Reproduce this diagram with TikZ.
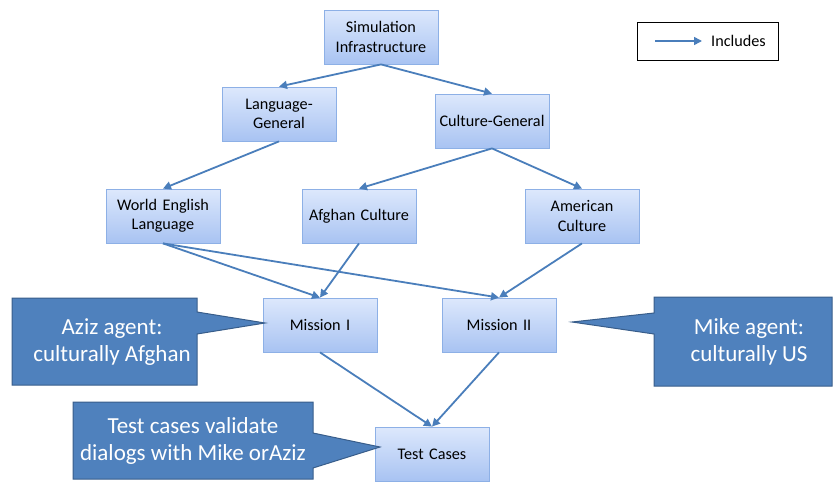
\documentclass[tikz,border=0pt]{standalone}
\usepackage{fontspec}
\setmainfont{Carlito}
\usetikzlibrary{arrows.meta}
\definecolor{boxtop}{HTML}{DDE8FC}
\definecolor{boxbot}{HTML}{A8C3F2}
\definecolor{boxline}{HTML}{8DB0E6}
\definecolor{arr}{HTML}{4A7EBB}
\definecolor{callfill}{HTML}{4F81BD}
\definecolor{callline}{HTML}{385D8A}
\tikzset{
  x=1pt,y=1pt,
  blk/.style={draw=boxline,line width=0.8pt,top color=boxtop,bottom color=boxbot,
    minimum width=114pt,minimum height=54pt,text width=110pt,align=center,
    inner sep=2pt,font=\fontsize{16.2}{19.5}\selectfont},
  conn/.style={draw=arr,line width=1.8pt,-{Triangle[length=8pt,width=8pt]}},
  callshape/.style={fill=callfill,draw=callline,line width=1pt},
  calltext/.style={text=white,align=center,font=\fontsize{23}{27}\selectfont}
}
\begin{document}
\begin{tikzpicture}
\useasboundingbox (0,0) rectangle (833,-482);
% legend
\node[draw=black,line width=1pt,minimum width=141pt,minimum height=38pt,inner sep=0pt] (leg) at (707.5,-41) {};
\coordinate (la) at (655,-41);
\coordinate (lb) at (702,-41);
\draw[conn,line width=1.5pt] (la) -- (lb);
\node[font=\fontsize{16.2}{19}\selectfont,anchor=west,inner sep=0pt] (legt) at (711,-41) {Includes};
% boxes
\node[blk] (sim) at (381,-37) {Simulation\\Infrastructure};
\node[blk] (lg) at (279,-114) {Language-\\General};
\node[blk] (cg) at (492,-121) {Culture-General};
\node[blk] (we) at (163,-216) {World English\\Language};
\node[blk] (af) at (359,-216) {Afghan Culture};
\node[blk] (am) at (582,-216) {American\\Culture};
\node[blk] (m1) at (320,-325) {Mission I};
\node[blk] (m2) at (499,-325) {Mission II};
\node[blk] (tc) at (432,-454) {Test Cases};
% connectors
\draw[conn] (sim.south) -- (lg.north);
\draw[conn] (sim.south) -- (cg.north);
\draw[conn] (lg.south) -- (we.north);
\draw[conn] (cg.south) -- (af.north);
\draw[conn] (cg.south) -- (am.north);
\draw[conn] (we.south) -- (m1.north);
\draw[conn] (we.south) -- (m2.north);
\draw[conn] (af.south) -- (m1.north);
\draw[conn] (am.south) -- (m2.north);
\draw[conn] (m1.south) -- (tc.north);
\draw[conn] (m2.south) -- (tc.north);
% callouts
\draw[callshape] (12,-298) -- (197,-298) -- (197,-312) -- (265,-323) -- (197,-334) -- (197,-385) -- (12,-385) -- cycle;
\node[calltext] (aziz) at (112,-342) {Aziz agent:\\culturally Afghan};
\draw[callshape] (654,-297) -- (832,-297) -- (832,-386) -- (654,-386) -- (654,-334) -- (572,-322) -- (654,-313) -- cycle;
\node[calltext] (mike) at (749,-342) {Mike agent:\\culturally US};
\draw[callshape] (73,-402) -- (313,-402) -- (313,-433) -- (380,-447) -- (313,-468) -- (313,-479) -- (73,-479) -- cycle;
\node[calltext] (test) at (193,-441) {Test cases validate\\dialogs with Mike orAziz};
\end{tikzpicture}
\end{document}
